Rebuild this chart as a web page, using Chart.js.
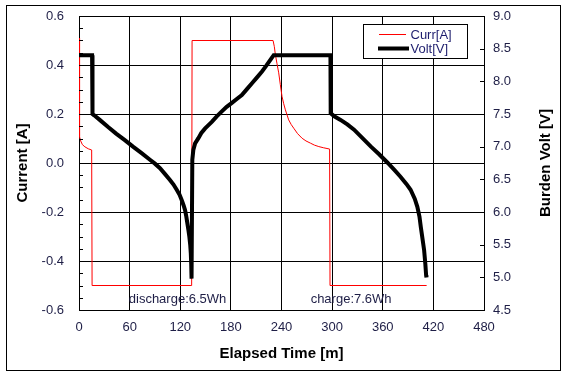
<!DOCTYPE html>
<html>
<head>
<meta charset="utf-8">
<script src="https://cdn.jsdelivr.net/npm/chart.js@4.4.1/dist/chart.umd.min.js"></script>
<style>
  html, body { margin: 0; padding: 0; background: #fff; }
  #c { display: block; }
</style>
</head>
<body>
<canvas id="c" width="568" height="379"></canvas>
<script>
// ---- data ----
const currTime = [0, 0.3, 1, 2, 4, 7, 11, 15, 15.5, 133.5, 134, 230, 231.5, 232.7, 234.7, 236.7, 238.6, 240.6, 242.6, 244.6, 248.5, 251.5, 254.5, 259, 264.4, 269, 274.3, 279, 284.2, 290, 297, 297.5, 412];
const currValues = [0.51, 0.14, 0.107, 0.09, 0.075, 0.066, 0.058, 0.053, -0.5, -0.5, 0.5, 0.5, 0.475, 0.443, 0.405, 0.368, 0.32, 0.272, 0.242, 0.217, 0.176, 0.157, 0.142, 0.12, 0.101, 0.09, 0.081, 0.073, 0.067, 0.062, 0.057, -0.5, -0.5];

const voltTime = [0, 15.5, 16, 18, 24.6, 34.5, 44, 54.3, 64, 74.2, 84.1, 90, 96, 102, 107.8, 112, 115.8, 119, 121.8, 124, 125.7, 127.2, 128.4, 129.7, 130.8, 131.8, 132.5, 133, 133.2, 133.6,
  134.3, 135.5, 137.6, 141.5, 145, 149.5, 157.4, 163, 169.3, 175, 181.2, 187, 193, 199, 205, 211, 216.9, 222, 226.8, 230.7,
  298, 298.3, 303, 310, 318, 326, 336, 346, 356, 366, 374, 381, 388, 393, 398, 401, 403.5, 405.1, 407, 409, 410.5, 411.4, 411.8];
const voltValues = [8.40, 8.40, 7.50, 7.48, 7.41, 7.30, 7.20, 7.10, 7.00, 6.90, 6.80, 6.74, 6.67, 6.58, 6.49, 6.42, 6.34, 6.27, 6.18, 6.10, 6.03, 5.93, 5.83, 5.72, 5.62, 5.50, 5.37, 5.20, 5.03, 4.98,
  6.80, 6.95, 7.05, 7.13, 7.21, 7.28, 7.38, 7.46, 7.54, 7.61, 7.67, 7.73, 7.79, 7.88, 7.97, 8.06, 8.15, 8.24, 8.33, 8.40,
  8.40, 7.51, 7.46, 7.41, 7.34, 7.26, 7.13, 7.00, 6.88, 6.75, 6.64, 6.54, 6.43, 6.34, 6.20, 6.08, 5.93, 5.77, 5.60, 5.42, 5.20, 5.03, 5.00];

const seriesNames = ['Curr[A]', 'Volt[V]'];
const xTicks = { min: 0, max: 480, step: 60 };
const leftTicks = { min: -0.6, max: 0.6, step: 0.2, minor: 0.05 };
const rightTicks = { min: 4.5, max: 9.0, step: 0.5 };
const annotations = [
  { text: 'discharge:6.5Wh', x: 116.8, y: -0.558 },
  { text: 'charge:7.6Wh', x: 322.5, y: -0.558 }
];
const titles = { x: 'Elapsed Time [m]', left: 'Current [A]', right: 'Burden Volt [V]' };

// ---- rendering ----
const FONT = '"Liberation Sans", Arial, sans-serif';
const TXT = '#1e1e46';

function toXY(xs, ys) { return xs.map((x, i) => ({ x: x, y: ys[i] })); }

const framePlugin = {
  id: 'frame',
  beforeDraw(chart) {
    const ctx = chart.ctx;
    ctx.save();
    ctx.fillStyle = '#fff';
    ctx.fillRect(0, 0, chart.width, chart.height);
    ctx.strokeStyle = '#000';
    ctx.lineWidth = 1;
    ctx.strokeRect(6.5, 5.5, 554, 365);
    ctx.restore();
  },
  afterDatasetsDraw(chart) {
    const ctx = chart.ctx;
    const ys = chart.scales.y, yr = chart.scales.y1, xs = chart.scales.x;
    const area = chart.chartArea;
    ctx.save();
    ctx.strokeStyle = '#000';
    ctx.lineWidth = 1;
    // minor ticks on left axis (inside)
    const n = Math.round((leftTicks.max - leftTicks.min) / leftTicks.minor);
    for (let i = 0; i <= n; i++) {
      const v = leftTicks.min + i * leftTicks.minor;
      const py = Math.round(ys.getPixelForValue(v)) + 0.5;
      ctx.beginPath();
      ctx.moveTo(area.left, py);
      ctx.lineTo(area.left + 4, py);
      ctx.stroke();
    }
    // right axis ticks (inside)
    const m = Math.round((rightTicks.max - rightTicks.min) / rightTicks.step);
    for (let i = 0; i <= m; i++) {
      const v = rightTicks.min + i * rightTicks.step;
      const py = Math.round(yr.getPixelForValue(v)) + 0.5;
      ctx.beginPath();
      ctx.moveTo(area.right, py);
      ctx.lineTo(area.right - 4, py);
      ctx.stroke();
    }
    // annotations
    ctx.fillStyle = TXT;
    ctx.font = '13px ' + FONT;
    ctx.textAlign = 'center';
    ctx.textBaseline = 'middle';
    annotations.forEach(a => {
      ctx.fillText(a.text, xs.getPixelForValue(a.x), ys.getPixelForValue(a.y));
    });
    // right axis title (reads bottom-to-top)
    ctx.save();
    ctx.translate(546, (area.top + area.bottom) / 2);
    ctx.rotate(-Math.PI / 2);
    ctx.fillStyle = '#000';
    ctx.font = 'bold 15px ' + FONT;
    ctx.fillText(titles.right, 0, 0);
    ctx.restore();
    // legend box
    const lx = 363.5, ly = 24.5, lw = 104, lh = 34;
    ctx.fillStyle = '#fff';
    ctx.fillRect(lx, ly, lw, lh);
    ctx.strokeStyle = '#000';
    ctx.lineWidth = 1;
    ctx.strokeRect(lx, ly, lw, lh);
    ctx.strokeStyle = '#ff0000';
    ctx.lineWidth = 1;
    ctx.beginPath(); ctx.moveTo(379, 34.5); ctx.lineTo(406, 34.5); ctx.stroke();
    ctx.strokeStyle = '#000';
    ctx.lineWidth = 4;
    ctx.beginPath(); ctx.moveTo(378, 48.5); ctx.lineTo(409, 48.5); ctx.stroke();
    ctx.fillStyle = '#1e1e6e';
    ctx.font = '13px ' + FONT;
    ctx.textAlign = 'left';
    ctx.fillText(seriesNames[0], 410.5, 35);
    ctx.fillText(seriesNames[1], 410.5, 49);
    ctx.restore();
  }
};

new Chart(document.getElementById('c'), {
  type: 'line',
  data: {
    datasets: [
      {
        label: seriesNames[1],
        data: toXY(voltTime, voltValues),
        yAxisID: 'y1',
        borderColor: '#000',
        borderWidth: 4,
        pointRadius: 0,
        tension: 0,
        fill: false
      },
      {
        label: seriesNames[0],
        data: toXY(currTime, currValues),
        yAxisID: 'y',
        borderColor: '#ff0000',
        borderWidth: 1,
        pointRadius: 0,
        tension: 0,
        fill: false
      }
    ]
  },
  options: {
    responsive: false,
    animation: false,
    devicePixelRatio: 1,
    layout: { padding: { top: 16, left: 0, right: 0, bottom: 0 } },
    plugins: { legend: { display: false }, tooltip: { enabled: false } },
    scales: {
      x: {
        type: 'linear',
        min: xTicks.min, max: xTicks.max,
        ticks: { stepSize: xTicks.step, color: TXT, font: { family: FONT, size: 13 }, padding: 10, maxRotation: 0 },
        grid: { color: '#000', lineWidth: 1, drawTicks: false },
        border: { color: '#000', width: 1 },
        title: { display: true, text: titles.x, color: '#000', font: { family: FONT, size: 15, weight: 'bold' }, padding: { top: 0, bottom: 16 } },
        afterFit(s) { s.height = 69; s.paddingLeft = 0; s.paddingRight = 0; }
      },
      y: {
        type: 'linear', position: 'left',
        min: leftTicks.min, max: leftTicks.max,
        ticks: { stepSize: leftTicks.step, color: TXT, font: { family: FONT, size: 13 }, padding: 15,
                 callback: v => Number(v).toFixed(1) },
        grid: { color: '#000', lineWidth: 1, drawTicks: false },
        border: { color: '#000', width: 1 },
        title: { display: true, text: titles.left, color: '#000', font: { family: FONT, size: 15, weight: 'bold' }, padding: { top: 14, bottom: 0 } },
        afterFit(s) { s.width = 79; s.paddingTop = 0; s.paddingBottom = 0; }
      },
      y1: {
        type: 'linear', position: 'right',
        min: rightTicks.min, max: rightTicks.max,
        ticks: { stepSize: rightTicks.step, color: TXT, font: { family: FONT, size: 13 }, padding: 9,
                 callback: v => Number(v).toFixed(1) },
        grid: { drawOnChartArea: false, drawTicks: false },
        border: { color: '#000', width: 1 },
        title: { display: false },
        afterFit(s) { s.width = 84; s.paddingTop = 0; s.paddingBottom = 0; }
      }
    }
  },
  plugins: [framePlugin]
});
</script>
</body>
</html>
